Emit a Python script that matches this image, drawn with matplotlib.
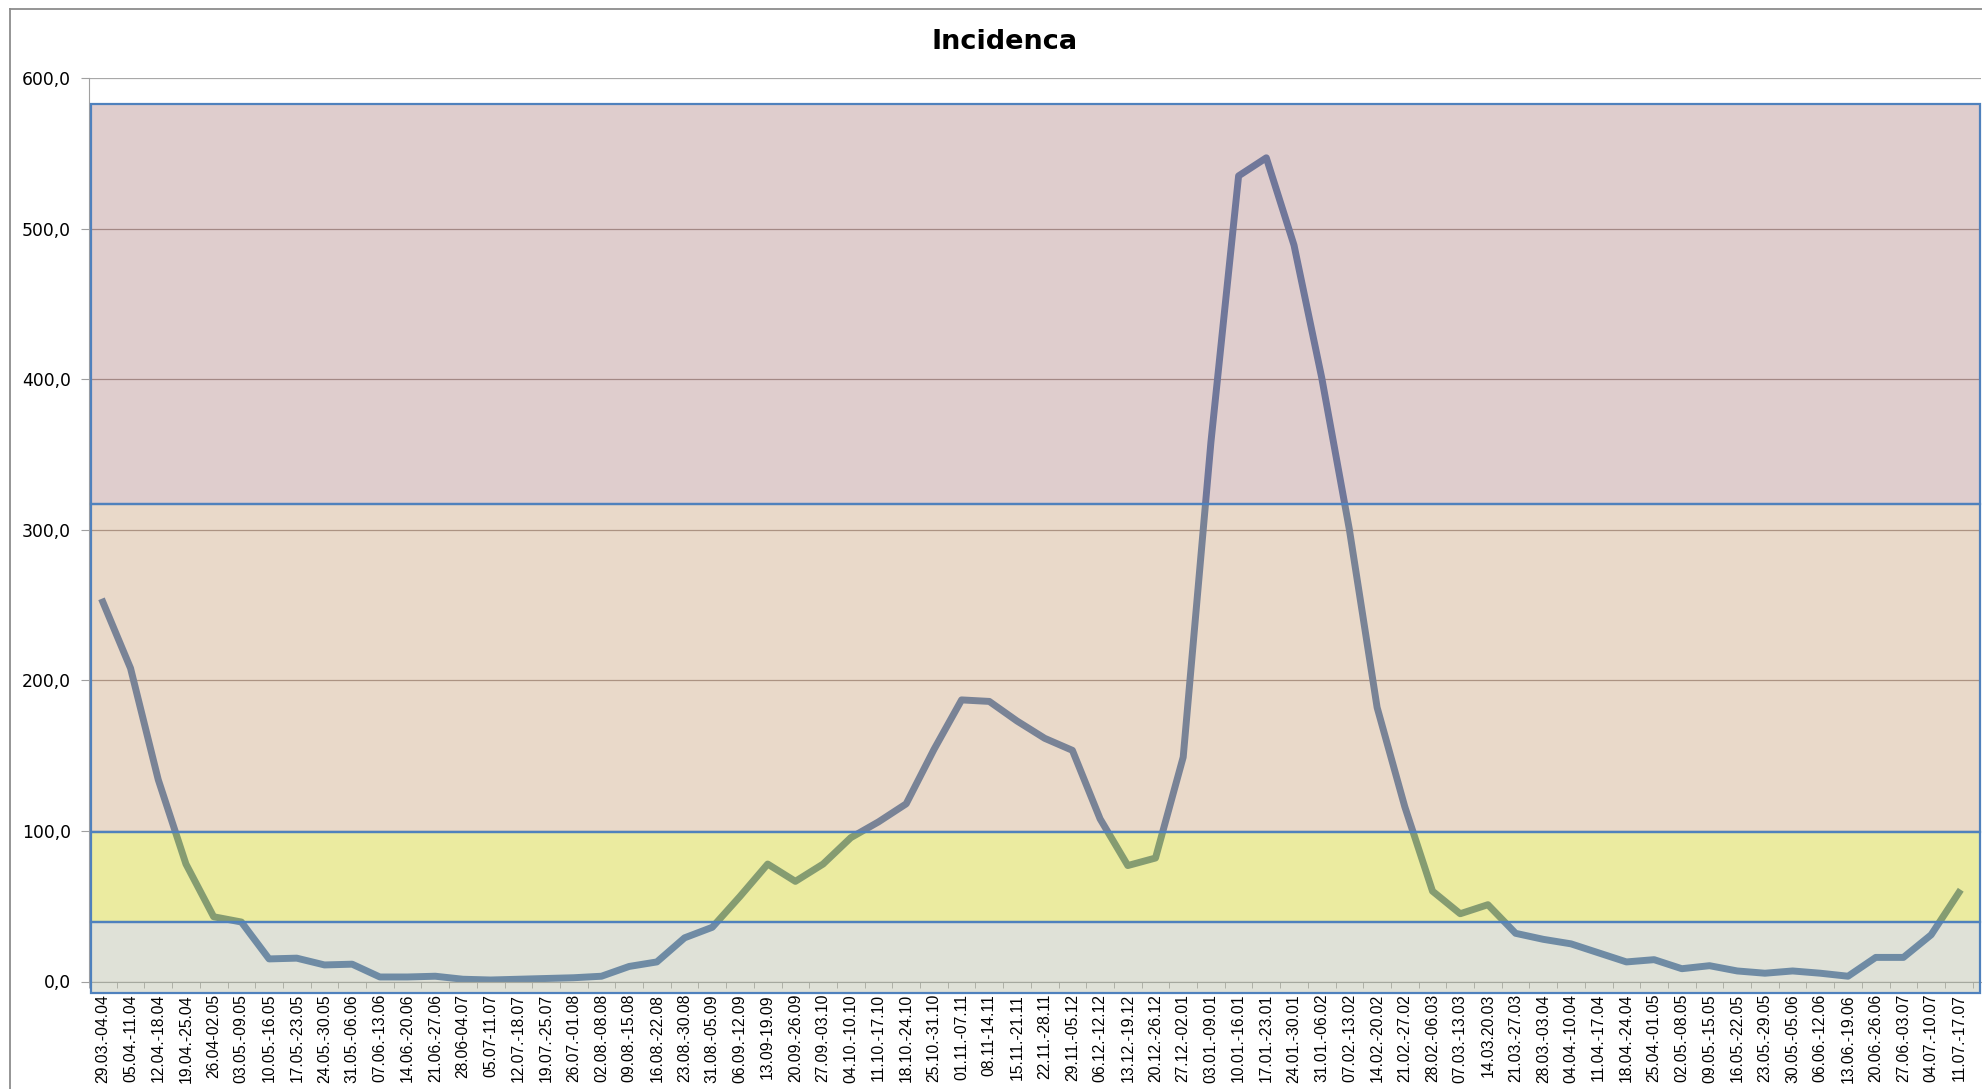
import numpy as np
import matplotlib
matplotlib.use('Agg')
import matplotlib.pyplot as plt
from matplotlib.patches import Rectangle
from matplotlib.lines import Line2D

# weekly periods
weeks = ['29.03.-04.04', '05.04.-11.04', '12.04.-18.04', '19.04.-25.04', '26.04-02.05',
         '03.05.-09.05', '10.05.-16.05', '17.05.-23.05', '24.05.-30.05', '31.05.-06.06',
         '07.06.-13.06', '14.06.-20.06', '21.06.-27.06', '28.06-04.07', '05.07-11.07',
         '12.07.-18.07', '19.07.-25.07', '26.07.-01.08', '02.08.-08.08', '09.08.-15.08',
         '16.08.-22.08', '23.08.-30.08', '31.08.-05.09', '06.09.-12.09', '13.09-19.09',
         '20.09.-26.09', '27.09.-03.10', '04.10.-10.10', '11.10.-17.10', '18.10.-24.10',
         '25.10.-31.10', '01.11.-07.11', '08.11-14.11', '15.11.-21.11', '22.11.-28.11',
         '29.11.-05.12', '06.12.-12.12', '13.12.-19.12', '20.12.-26.12', '27.12.-02.01',
         '03.01.-09.01', '10.01.-16.01', '17.01.-23.01', '24.01.-30.01', '31.01.-06.02',
         '07.02.-13.02', '14.02.-20.02', '21.02.-27.02', '28.02.-06.03', '07.03.-13.03',
         '14.03.20.03', '21.03.-27.03', '28.03.-03.04', '04.04.-10.04', '11.04.-17.04',
         '18.04.-24.04', '25.04.-01.05', '02.05.-08.05', '09.05.-15.05', '16.05.-22.05',
         '23.05.-29.05', '30.05.-05.06', '06.06.-12.06', '13.06.-19.06', '20.06.-26.06',
         '27.06.-03.07', '04.07.-10.07', '11.07.-17.07']

incidence = [252, 208, 134, 78, 43, 39.5, 15, 15.5, 11, 11.5,
             3, 3, 3.5, 1.5, 1, 1.5, 2, 2.5, 3.5, 10,
             13, 29, 36, 56.5, 78, 66.5, 78, 95.5, 106, 118,
             154, 187, 186, 173, 161.5, 153.5, 108, 77, 82, 149,
             358, 535, 547, 489, 401, 300, 182, 116, 60, 45,
             51, 32, 28, 25, 19, 13, 14.5, 8.5, 10.5, 7,
             5.5, 7, 5.5, 3.5, 16, 16, 31, 59]

# risk bands (lower, upper)
band_lo = [-7.5, 39.5, 99.5, 317]
band_hi = [39.5, 99.5, 317, 583]
band_col = ['#afb69d', '#d3d32c', '#c8a07a', '#b18282']
band_alpha = [0.4, 0.45, 0.4, 0.4]

W, H = 1983, 1089
fig = plt.figure(figsize=(W / 100, H / 100), dpi=100)
ax = fig.add_axes([89 / W, 1 - 981.5 / H, (1981 - 89) / W, (981.5 - 78) / H])

x = np.arange(len(weeks))
ax.plot(x, incidence, color='#4670aa', lw=5, solid_joinstyle='round', zorder=2)

for lo, hi, c, a in zip(band_lo, band_hi, band_col, band_alpha):
    r = Rectangle((-0.42, lo), 68.2, hi - lo, facecolor=c, alpha=a, edgecolor='none',
                  zorder=3, clip_on=False)
    ax.add_patch(r)
    e = Rectangle((-0.42, lo), 68.2, hi - lo, facecolor='none', edgecolor='#4f81bd',
                  lw=1.6, zorder=4, clip_on=False)
    ax.add_patch(e)

ax.set_xlim(-0.5, 67.8)
ax.set_ylim(0, 600)
ax.set_yticks(np.arange(0, 601, 100))
ax.set_yticklabels([('%.1f' % v).replace('.', ',') for v in np.arange(0, 601, 100)],
                   fontsize=12.4)
ax.yaxis.grid(True, color='#9a8c88', lw=0.9)
for gl in ax.get_ygridlines():
    gl.set_zorder(3.5)
ax.get_ygridlines()[-1].set_color('#a8a8a8')

ax.set_xticks(x)
ax.set_xticklabels(weeks, rotation=90, fontsize=11.3, family='Liberation Sans')
ax.set_xticks(np.arange(-0.5, 67.6, 1), minor=True)
ax.tick_params(axis='x', which='major', length=0, pad=9)
ax.tick_params(axis='x', which='minor', length=4, color='#a0a0a0', direction='out')
ax.tick_params(axis='y', length=6, color='#a0a0a0', pad=7)

for s in ['top', 'right']:
    ax.spines[s].set_visible(False)
ax.spines['left'].set_color('#a0a0a0')
ax.spines['bottom'].set_color('#a0a0a0')

# outer chart frame
fig.add_artist(Line2D([10 / W, 10 / W], [0, 1 - 9 / H], color='#8c8c8c', lw=1.3))
fig.add_artist(Line2D([10 / W, 1], [1 - 9 / H, 1 - 9 / H], color='#8c8c8c', lw=1.3))

fig.text(1005 / W, 1 - 42 / H, 'Incidenca', ha='center', va='center',
         fontsize=19.5, fontweight='bold')

fig.savefig('out.png', dpi=100)
